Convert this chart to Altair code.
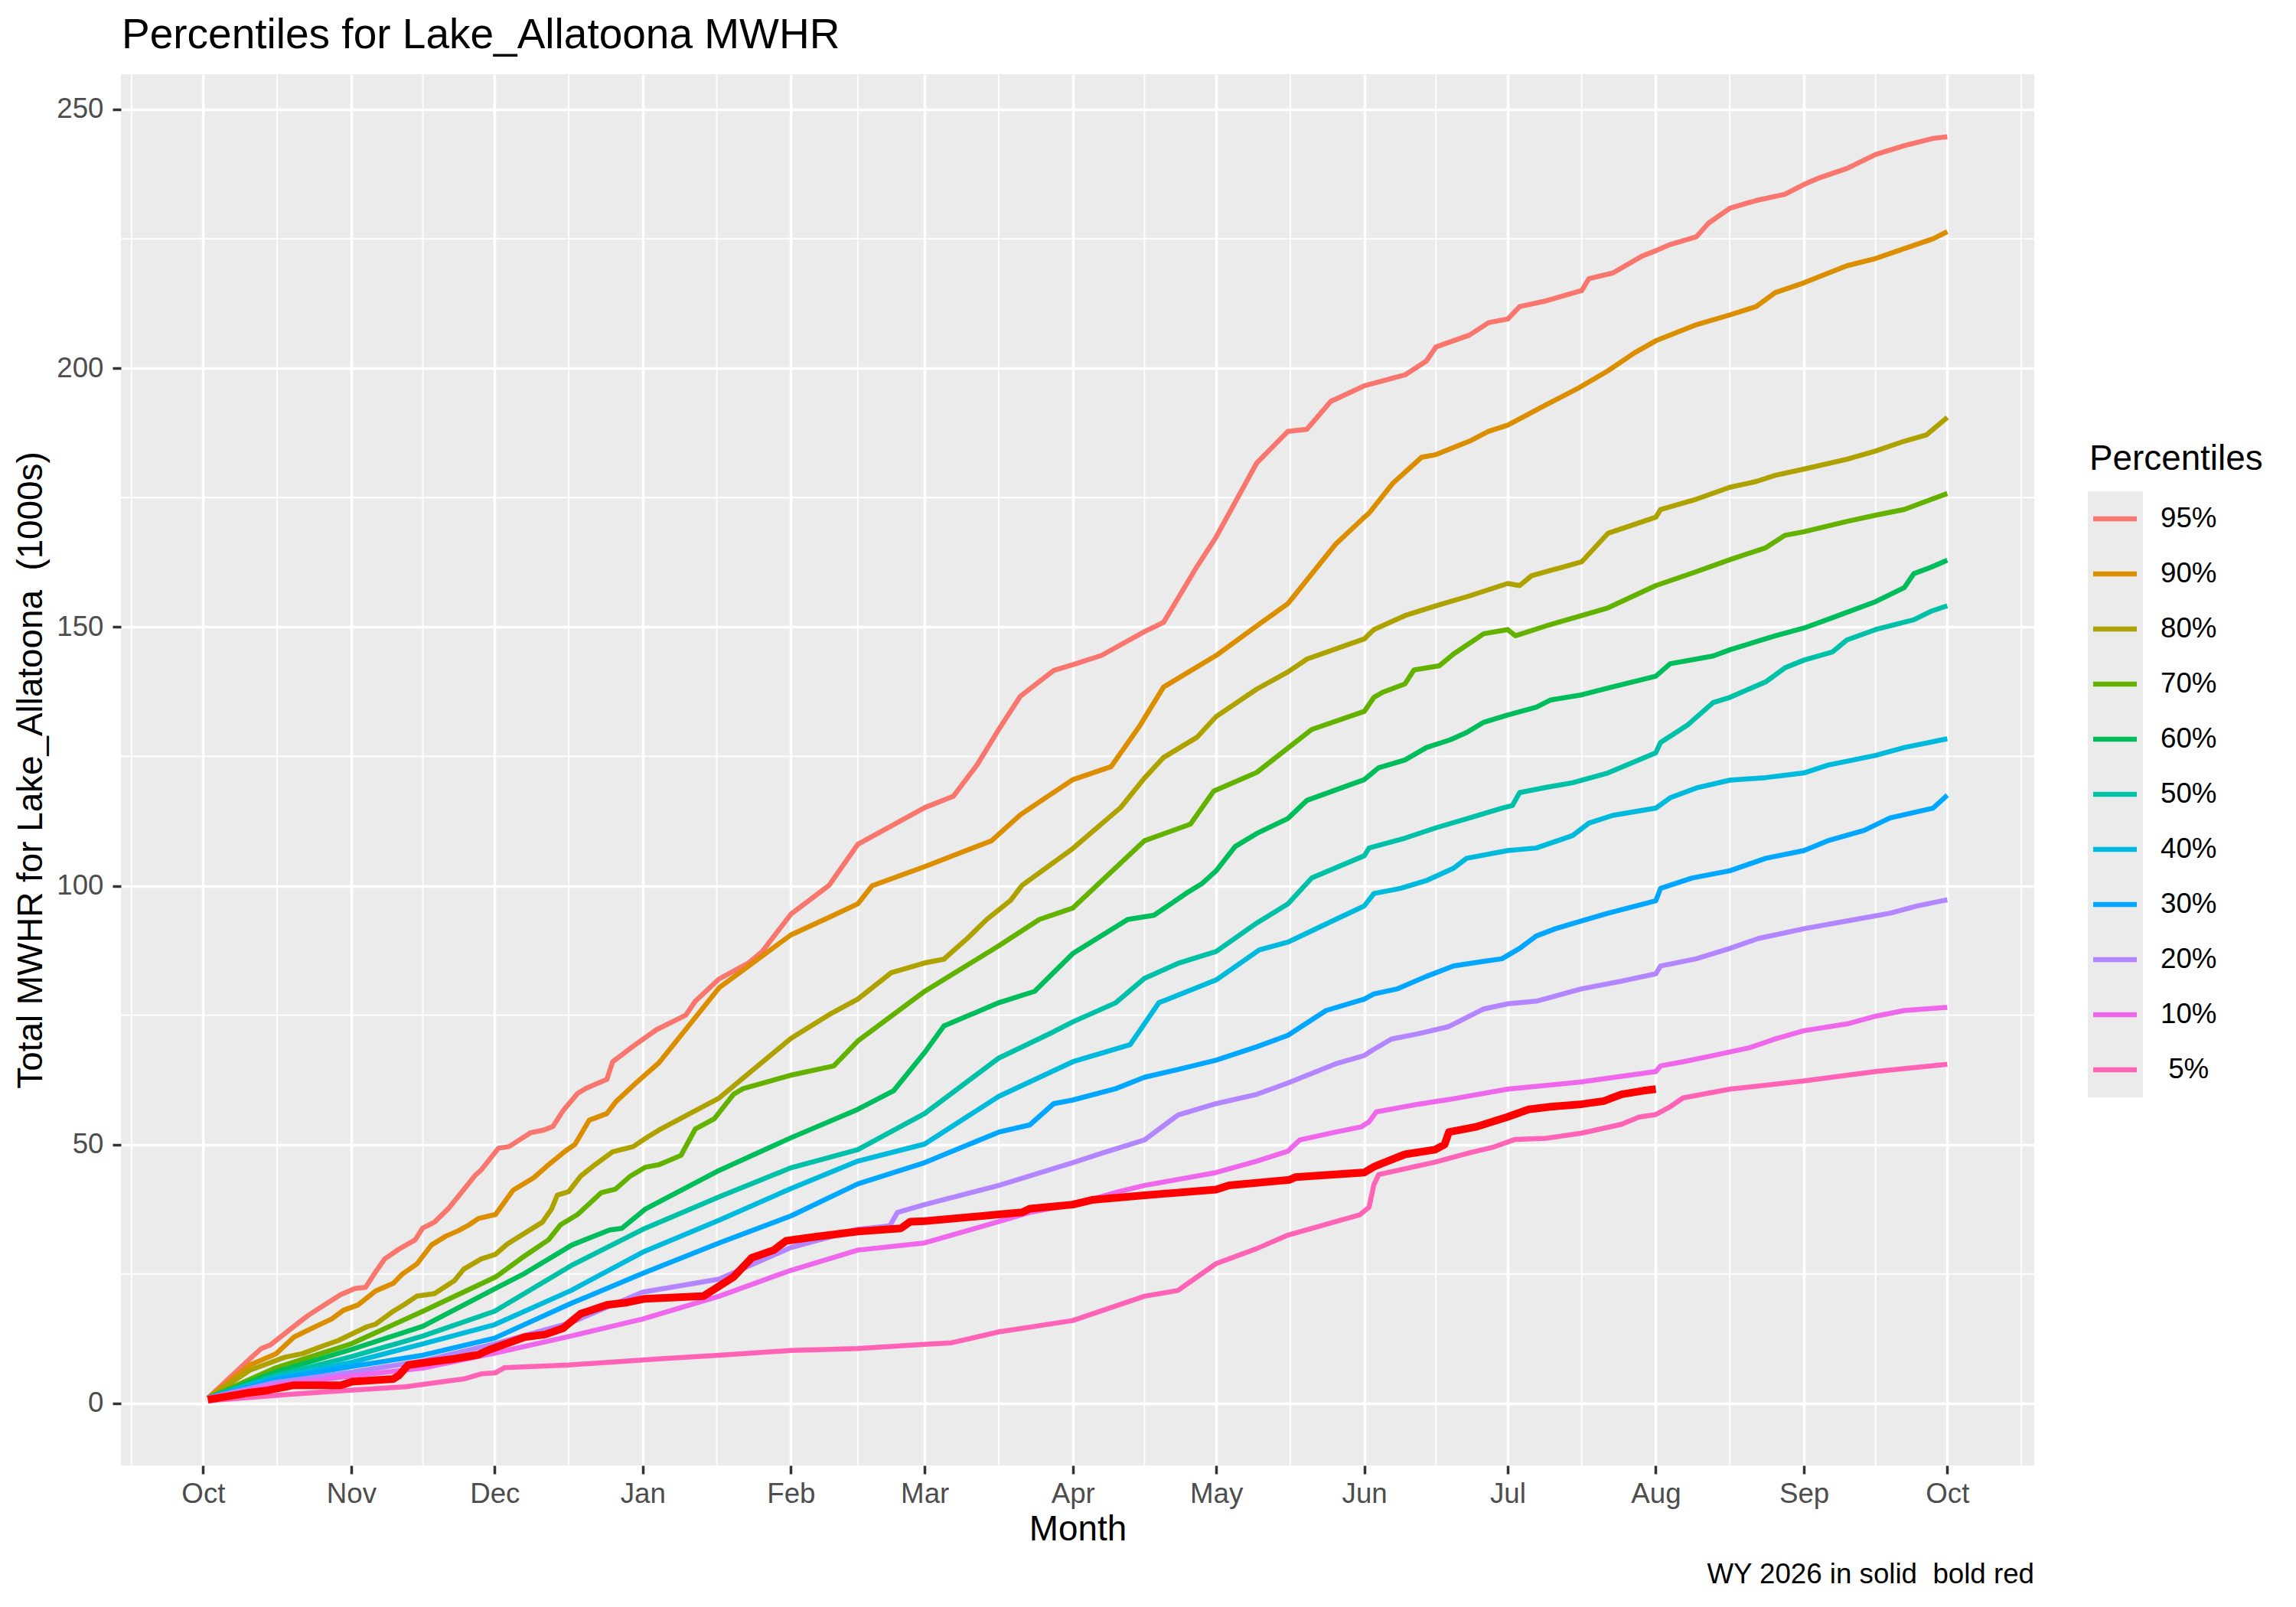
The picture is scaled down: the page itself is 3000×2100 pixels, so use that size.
import altair as alt
import pandas as pd

START = pd.Timestamp("2025-10-01")
FONT = "Liberation Sans"

title_text = "Percentiles for Lake_Allatoona MWHR"
y_title = "Total MWHR for Lake_Allatoona\u00a0 (1000s)"
x_title = "Month"
caption = "WY 2026 in solid\u00a0 bold red"

# the ggplot label for 5% carries a leading space
levels = ["95%", "90%", "80%", "70%", "60%", "50%", "40%", "30%", "20%", "10%", "\u200b\u00a05%"]
colours = ["#F8766D", "#DB8E00", "#AEA200", "#64B200", "#00BD5C", "#00C1A7",
           "#00BADE", "#00A6FF", "#B385FF", "#EF67EB", "#FF63B6"]

# days since 1 Oct 2025, cumulative MWHR (1000s)
p95_day = [1, 9.8, 12.2, 14.1, 19.6, 22, 25.7, 28.8, 31.8, 34, 36.1, 38, 41, 44.4, 45.9, 48.4, 51.4, 57,
           58.2, 61.8, 64, 68.6, 71.3, 73.2, 75.3, 78.4, 80.2, 84.5, 85.7, 87.6, 90, 94.9, 101, 103, 108,
           114, 117, 123, 131, 137, 151, 157, 162, 166.5, 171, 178, 182, 188, 197, 201, 208, 212, 220.5,
           227, 231, 236, 243, 251.5, 256, 258, 265, 269, 273, 275.5, 281, 288.5, 290, 295, 301, 304, 307,
           312.5, 315, 319.5, 325, 331, 335, 338, 344, 350, 356, 362, 365]
p95_val = [1, 8.6, 10.6, 11.3, 15.3, 17, 19.2, 21, 22.2, 22.4, 25.4, 27.9, 29.8, 31.6, 33.8, 35, 37.7,
           44.1, 45.1, 49.3, 49.6, 52.3, 52.8, 53.5, 56.5, 59.9, 60.9, 62.6, 66, 67.3, 69, 72.2, 75, 77.7,
           82, 85, 87.3, 94.5, 100.1, 108, 115.1, 117.3, 123.4, 130.2, 136.6, 141.6, 142.7, 144.5, 149.1,
           150.9, 161.7, 167.4, 181.7, 187.8, 188.2, 193.6, 196.6, 198.7, 201.4, 204.1, 206.4, 208.8,
           209.5, 211.9, 213, 215, 217.3, 218.4, 221.6, 222.7, 223.9, 225.4, 228, 230.9, 232.4, 233.6,
           235.5, 236.7, 238.6, 241.3, 243, 244.4, 244.7]

p90_day = [1, 9.8, 15.3, 19, 23.9, 26.9, 29.4, 32.4, 36.1, 39.8, 41.6, 44.7, 47.8, 50.8, 53.3, 55.7,
           57.6, 61.2, 64.9, 69.2, 72.3, 75.9, 77.8, 80.8, 84.5, 86.3, 90.6, 95.4, 108, 123, 131, 137, 140,
           151, 165, 171, 175.5, 182, 190, 196, 201, 212, 220.5, 227, 237, 243, 244, 249, 255, 258, 265,
           269, 273, 281, 287.5, 294, 299.6, 304, 312.5, 319.5, 325, 329, 335, 344, 350, 356, 362, 365]
p90_val = [1, 7.4, 9.6, 12.8, 15, 16.3, 18, 19, 21.7, 23.2, 24.9, 26.9, 30.6, 32.3, 33.3, 34.5, 35.7,
           36.5, 41.2, 43.6, 46.1, 48.8, 50, 54.7, 56, 58.2, 61.9, 65.8, 80.3, 90.5, 93.9, 96.5, 100,
           103.7, 108.7, 113.7, 116.5, 120.5, 123, 130.9, 138.4, 144.5, 150.2, 154.5, 166, 171.2, 172,
           177.8, 182.8, 183.3, 185.9, 187.8, 189, 192.9, 196, 199.5, 203, 205.3, 208.4, 210.3, 211.9,
           214.6, 216.5, 219.8, 221.2, 223.1, 225, 226.4]

p80_day = [1, 9.8, 17.1, 20.8, 25.1, 28.2, 34.3, 36.1, 39.8, 42.3, 44.7, 48.4, 52.6, 54.5, 58.2, 61.2,
           63.7, 71, 72.9, 74.1, 76.5, 79, 82, 85.7, 90, 93.1, 95.4, 108, 123, 131, 137, 144, 151, 155,
           160, 164, 169, 171.4, 182, 192, 197, 201, 208, 212, 220.5, 227, 231, 243, 245, 251.5, 258, 265,
           273, 275.5, 278, 288.5, 294, 304, 305, 312.5, 319.5, 325, 329, 335, 344, 350, 356, 360.6, 365]
p80_val = [1, 6.4, 8.9, 9.6, 11.1, 12.1, 14.8, 15.3, 17.8, 19.2, 20.7, 21.2, 23.7, 25.9, 27.9, 28.8,
           30.8, 35, 37.5, 40.2, 40.9, 43.9, 46.1, 48.6, 49.6, 51.5, 52.8, 59, 70.5, 75.1, 78.1, 83.2,
           85.1, 85.8, 89.9, 93.5, 97.2, 100.1, 107.2, 115.1, 120.8, 124.8, 128.7, 132.7, 138, 141.3,
           143.8, 147.7, 149.5, 152.2, 154.1, 156, 158.4, 158, 159.9, 162.6, 168.1, 171.2, 172.7, 174.7,
           177, 178.1, 179.3, 180.5, 182.4, 184, 185.9, 187.1, 190.5]

p70_day = [1, 15, 31, 46, 61.2, 66.7, 72.3, 74.8, 78.4, 83.3, 86.3, 89.4, 92.5, 95.4, 100, 103, 107,
           111, 113, 123, 132, 137, 151, 166.5, 175, 182, 188, 197, 206.6, 211.5, 220.5, 227, 232, 243,
           245, 246.9, 251.5, 253.4, 258.7, 261.7, 268, 273, 274.6, 281, 288.5, 294, 304, 312.5, 319.5,
           327, 331, 335, 344, 350, 356, 360.6, 365]
p70_val = [1, 6.8, 11.5, 17.8, 24.4, 28.1, 31.6, 34.5, 36.5, 40.7, 41.4, 43.9, 45.6, 46.1, 47.9, 53, 55,
           59.7, 60.8, 63.4, 65.2, 70, 79.6, 88.4, 93.5, 95.7, 100.9, 108.7, 111.9, 118.3, 121.9, 126.6,
           130.2, 133.7, 136.4, 137.4, 139, 141.7, 142.5, 144.8, 148.7, 149.5, 148.3, 150.2, 152.2, 153.7,
           158, 160.7, 163, 165.3, 167.7, 168.4, 170.4, 171.6, 172.7, 174.3, 175.8]

p60_day = [1, 15, 31, 46, 61.2, 67.3, 77.2, 85.1, 87.6, 92.5, 108, 123, 137, 144.5, 151, 155, 166.5,
           174, 182, 193.5, 199, 206, 209, 212, 216, 220.5, 227, 231, 243, 246, 251.5, 256, 261, 264.4,
           268, 273, 279, 282, 288.5, 294, 304, 307, 316, 319.5, 329, 335, 341, 350, 356, 358, 361.5, 365]
p60_val = [1, 6, 10.4, 14.9, 22.2, 25.1, 30.6, 33.5, 33.8, 37.5, 45, 51.3, 56.8, 60.4, 67.8, 72.9, 77.4,
           79.6, 86.9, 93.5, 94.3, 98.7, 100.4, 102.9, 107.6, 110.1, 113, 116.5, 120.5, 122.8, 124.3,
           126.7, 128.2, 129.6, 131.6, 133, 134.5, 135.9, 136.9, 138.2, 140.5, 142.9, 144.4, 145.6, 148.3,
           149.8, 151.8, 154.9, 157.6, 160.3, 161.5, 162.9]

p50_day = [1, 15, 31, 46, 61, 77, 92, 108, 123, 137, 151, 166.5, 178, 182, 191, 197, 204, 212, 220.5, 227,
           232, 243, 244, 251.5, 258, 265, 271.8, 274, 275.5, 281, 286.6, 294, 304, 305, 310.7, 316,
           319.5, 327, 331, 335, 341, 344, 350, 358, 361.5, 365]
p50_val = [1, 5.3, 9, 13, 17.8, 26.6, 33.6, 39.9, 45.5, 49, 56, 66.7, 71.8, 73.7, 77.4, 82.1, 85, 87.3,
           92.8, 96.5, 101.5, 105.8, 107.3, 109.2, 111.2, 113.1, 115, 115.5, 118, 119, 119.9, 121.8, 125.7,
           127.7, 131.1, 135.4, 136.4, 139.4, 142.1, 143.6, 145.2, 147.5, 149.5, 151.4, 153, 154.1]

p40_day = [1, 15, 31, 46, 61, 77, 92, 108, 123, 137, 151, 166.5, 182, 194, 200, 212, 221, 227, 237, 243,
           245, 250.6, 256, 261.7, 264.4, 273, 279, 286.6, 290, 295, 304, 307, 312.5, 319.5, 327, 335,
           340, 350, 356, 365]
p40_val = [1, 4.9, 7.9, 11.5, 15.2, 21.8, 29.2, 35.4, 41.5, 46.8, 50.1, 59.3, 66, 69.3, 77.4, 81.8, 87.6,
           89.1, 93.5, 96.1, 98.5, 99.5, 101, 103.4, 105.3, 106.8, 107.3, 109.7, 112.1, 113.6, 115, 117,
           118.9, 120.4, 120.9, 121.8, 123.3, 125.2, 126.7, 128.4]

p30_day = [1, 15, 31, 46, 61, 77, 92, 108, 123, 137, 151, 166.5, 173, 178, 182, 191, 197, 204, 212,
           220.5, 227, 235, 243, 245, 250, 256, 261.7, 268, 271.8, 275.5, 279, 283, 288.5, 294, 304, 305,
           311.6, 319.5, 327, 335, 340, 347.6, 353, 362, 365]
p30_val = [1, 4.6, 7.1, 9.3, 12.6, 19.3, 25.1, 31, 36.2, 42.4, 46.5, 52.4, 53.8, 57.9, 58.6, 60.8, 63,
           64.5, 66.3, 68.9, 71.1, 75.9, 78.1, 79.1, 80.1, 82.5, 84.5, 85.4, 85.9, 87.9, 90.3, 91.7, 93.2,
           94.7, 97.1, 99.5, 101.5, 102.9, 105.3, 106.8, 108.7, 110.7, 113.1, 115, 117.5]

p20_day = [1, 15, 31, 46, 61, 77, 92, 108, 123, 137, 143.7, 145.3, 151, 166.5, 182, 188, 197, 204, 212,
           220.5, 227, 237, 243, 245, 248.7, 254.3, 260.7, 268, 273, 279, 288.5, 297, 304, 305, 312.5,
           319.5, 325.4, 335, 344, 353, 358.7, 365]
p20_val = [1, 4, 6, 8.2, 11.5, 15.6, 21.5, 24, 30.1, 33.6, 34.3, 36.9, 38.4, 42.1, 46.5, 48.3, 50.9,
           55.7, 57.9, 59.7, 61.9, 65.6, 67.2, 68.4, 70.4, 71.4, 72.8, 76.2, 77.2, 77.7, 80.1, 81.6, 83,
           84.5, 85.9, 87.9, 89.8, 91.7, 93.2, 94.7, 96.1, 97.3]

p10_day = [1, 15, 31, 46, 61, 77, 92, 108, 123, 137, 151, 166.5, 173, 182, 192, 197, 212, 220.5, 227,
           229.5, 237, 242.3, 244, 245.5, 254.3, 260.7, 273, 288.5, 304, 305, 309.7, 316, 323.6, 329, 335,
           344, 350, 356, 365]
p10_val = [1, 3.5, 5.3, 6.8, 9.7, 13, 16.3, 20.7, 25.7, 29.6, 31, 35.1, 36.9, 38.4, 41, 42.1, 44.6, 46.8,
           48.7, 50.9, 52.4, 53.4, 54.4, 56.3, 57.8, 58.7, 60.7, 62.1, 64.1, 65.2, 66, 67.2, 68.7, 70.4,
           72, 73.3, 74.8, 75.9, 76.5]

p05_day = [1, 17.8, 30, 42.3, 50.2, 54.5, 58.2, 61.2, 63.1, 76.5, 95.4, 108, 123, 137, 151, 156.7,
           166.5, 182, 197, 204, 212, 220.5, 227, 237, 242, 244, 245, 246, 257.8, 265.4, 270, 274.6, 281,
           288.5, 296.8, 300.5, 304, 307, 309.7, 319.5, 335, 350, 365]
p05_val = [0.5, 1.7, 2.5, 3.2, 4.2, 4.7, 5.7, 5.9, 6.9, 7.4, 8.6, 9.3, 10.2, 10.6, 11.4, 11.7, 13.8, 16,
           20.7, 21.8, 27, 29.9, 32.5, 35.1, 36.4, 37.9, 42.2, 44.2, 46.6, 48.5, 49.5, 51, 51.2, 52.2,
           53.9, 55.3, 55.8, 57.3, 59, 60.7, 62.3, 64.1, 65.5]

wy2026_day = [1, 9.2, 13.5, 19, 28.8, 31.2, 39.8, 41, 42.9, 48.4, 52.6, 57.6, 60, 64.3, 67.3, 71.6,
              75.3, 79, 84.5, 88.8, 92.5, 104.7, 111, 114.8, 119.4, 122, 127.5, 137, 146, 148, 151, 166.5,
              171.4, 173, 182, 186, 197, 212, 214.7, 227.4, 228.6, 243, 245, 246, 251.5, 257.8, 259.8,
              260.7, 266.3, 272.9, 277.4, 282, 288.5, 293.1, 296.8, 301.4, 304]
wy2026_val = [0.7, 2, 2.5, 3.5, 3.5, 4.2, 4.7, 5.4, 7.4, 8.1, 8.6, 9.4, 10.4, 11.8, 12.8, 13.3, 14.5,
              17.3, 19, 19.5, 20.2, 20.7, 24.4, 28.1, 29.6, 31.4, 32.1, 33.2, 33.8, 35.1, 35.2, 36.5,
              36.9, 37.6, 38.4, 39.3, 40.2, 41.3, 42.1, 43.2, 43.7, 44.6, 45.7, 46.1, 48.1, 49, 50, 52.4,
              53.4, 55.3, 56.8, 57.3, 57.8, 58.4, 59.7, 60.4, 60.7]

y_major = [0, 50, 100, 150, 200, 250]
y_minor = [25, 75, 125, 175, 225]


def to_iso(ts):
    return ts.strftime("%Y-%m-%dT%H:%M:%SZ")


def day_dates(days):
    return [to_iso(START + pd.Timedelta(days=d)) for d in days]


series = [
    (levels[0], p95_day, p95_val), (levels[1], p90_day, p90_val), (levels[2], p80_day, p80_val),
    (levels[3], p70_day, p70_val), (levels[4], p60_day, p60_val), (levels[5], p50_day, p50_val),
    (levels[6], p40_day, p40_val), (levels[7], p30_day, p30_val), (levels[8], p20_day, p20_val),
    (levels[9], p10_day, p10_val), (levels[10], p05_day, p05_val),
]
frames = []
for name, days, vals in series:
    frames.append(pd.DataFrame({"date": day_dates(days), "mwhr": vals, "pct": name}))
pct_df = pd.concat(frames, ignore_index=True)
wy_df = pd.DataFrame({"date": day_dates(wy2026_day), "mwhr": wy2026_val})

# month ticks and the ggplot-style minor breaks half way between them
months = pd.date_range("2025-09-01", "2026-11-01", freq="MS")
major_months = [m for m in months if pd.Timestamp("2025-10-01") <= m <= pd.Timestamp("2026-10-01")]
minor_x = [months[i] + (months[i + 1] - months[i]) / 2 for i in range(len(months) - 1)]
minor_x_df = pd.DataFrame({"date": [to_iso(m) for m in minor_x]})
minor_y_df = pd.DataFrame({"mwhr": y_minor})

x_domain = [alt.DateTime(year=2025, month=9, date=13, hours=19, minutes=12, utc=True),
            alt.DateTime(year=2026, month=10, date=19, hours=4, minutes=48, utc=True)]
x_enc = alt.X(
    "date:T",
    scale=alt.Scale(type="utc", domain=x_domain, nice=False),
    axis=alt.Axis(
        title=x_title,
        values=[alt.DateTime(year=m.year, month=m.month, date=1, utc=True) for m in major_months],
        format="%b", labelFlush=False, labelOverlap=False,
        labelPadding=8, titlePadding=6,
    ),
)
y_enc = alt.Y(
    "mwhr:Q",
    scale=alt.Scale(domain=[-12, 256.8], nice=False, zero=False),
    axis=alt.Axis(title=y_title, values=y_major, format="d", labelPadding=12,
                  titlePadding=9),
)
colour_scale = alt.Scale(domain=levels, range=colours)

minor_v = alt.Chart(minor_x_df).mark_rule(color="white", strokeWidth=1.8).encode(x=x_enc)
minor_h = alt.Chart(minor_y_df).mark_rule(color="white", strokeWidth=1.8).encode(y=y_enc)

pct_lines = alt.Chart(pct_df).mark_line(strokeWidth=6.5, strokeJoin="round").encode(
    x=x_enc,
    y=y_enc,
    color=alt.Color("pct:N", scale=colour_scale, legend=None),
)
wy_line = alt.Chart(wy_df).mark_line(color="#FF0000", strokeWidth=10, strokeJoin="round").encode(
    x=x_enc,
    y=y_enc,
)
main = alt.layer(minor_v, minor_h, pct_lines, wy_line)

# hand-made ggplot legend: grey key column, coloured strokes, labels
legend_df = pd.DataFrame({"pct": levels})
key_y = alt.Scale(type="band", domain=levels, range=[545, 1337], paddingInner=0, paddingOuter=0)
key_bg = alt.Chart(legend_df).mark_rect(color="#EBEBEB").encode(
    y=alt.Y("pct:N", scale=key_y, axis=None),
    x=alt.value(2570), x2=alt.value(2642),
)
key_lines = alt.Chart(legend_df).mark_rule(strokeWidth=6.5).encode(
    y=alt.Y("pct:N", scale=key_y, axis=None, bandPosition=0.5),
    x=alt.value(2577), x2=alt.value(2634),
    color=alt.Color("pct:N", scale=colour_scale, legend=None),
)
key_labels = alt.Chart(legend_df).mark_text(
    align="left", baseline="middle", fontSize=36.7, font=FONT, color="black"
).encode(
    y=alt.Y("pct:N", scale=key_y, axis=None, bandPosition=0.5),
    x=alt.value(2665),
    text="pct:N",
)
legend = alt.layer(key_bg, key_lines, key_labels)

key_title = alt.Chart(pd.DataFrame({"t": ["Percentiles"]})).mark_text(
    align="left", baseline="alphabetic", fontSize=45.8, font=FONT, color="black"
).encode(x=alt.value(2572), y=alt.value(517), text="t:N")

plot_title = alt.Chart(pd.DataFrame({"t": [title_text]})).mark_text(
    align="left", baseline="alphabetic", fontSize=55, font=FONT, color="black"
).encode(x=alt.value(1), y=alt.value(-34), text="t:N")

plot_caption = alt.Chart(pd.DataFrame({"t": [caption]})).mark_text(
    align="right", baseline="alphabetic", fontSize=36.7, font=FONT, color="black"
).encode(x=alt.value(2500), y=alt.value(1972), text="t:N")

chart = alt.layer(main, legend, key_title, plot_title, plot_caption).resolve_scale(
    y="independent"
).properties(
    width=2500,
    height=1818,
    autosize=alt.AutoSizeParams(type="none"),
    padding={"left": 150, "top": 89, "right": 334, "bottom": 177},
).configure_view(
    fill="#EBEBEB", strokeWidth=0
).configure_axis(
    grid=True, gridColor="white", gridWidth=3.5,
    domain=False,
    tickColor="#333333", tickWidth=3.5, tickSize=11,
    labelFont=FONT, labelFontSize=36.7, labelColor="#4D4D4D",
    titleFont=FONT, titleFontSize=45.8, titleColor="black", titleFontWeight="normal",
)

chart.save("out.html", embed_options={"renderer": "svg", "actions": False})
